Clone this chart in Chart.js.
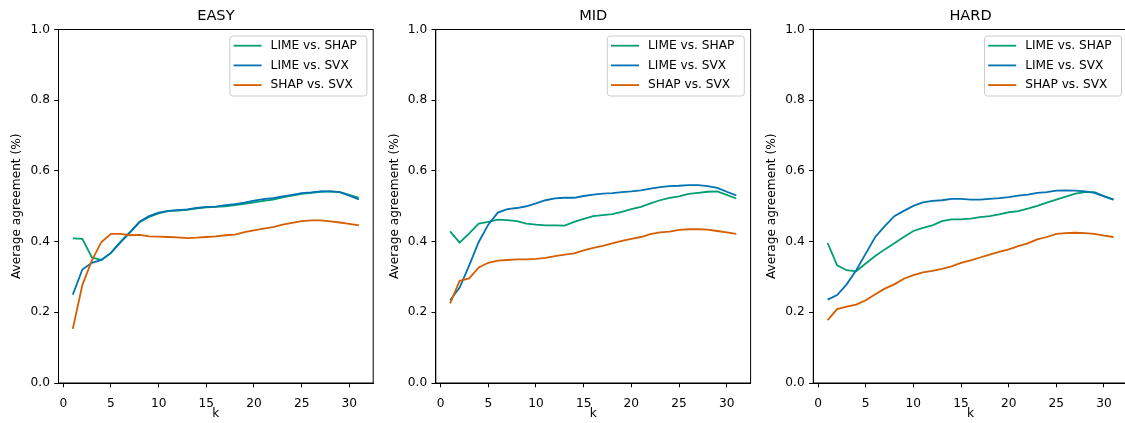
<!DOCTYPE html>
<html>
<head>
<meta charset="utf-8">
<script src="https://cdn.jsdelivr.net/npm/chart.js@4.4.1/dist/chart.umd.min.js"></script>
<style>
  html, body { margin: 0; padding: 0; background: #fff; overflow: hidden; }
  body { width: 1125px; height: 423px; position: relative; }
  canvas { position: absolute; top: 0; }
</style>
</head>
<body>
<canvas id="c1" width="380" height="423" style="left:0px"></canvas>
<canvas id="c2" width="380" height="423" style="left:380px"></canvas>
<canvas id="c3" width="375" height="423" style="left:760px"></canvas>
<script>
const kValues = [1, 2, 3, 4, 5, 6, 7, 8, 9, 10, 11, 12, 13, 14, 15, 16, 17, 18, 19, 20, 21, 22, 23, 24, 25, 26, 27, 28, 29, 30, 31];
const xTicks = [0, 5, 10, 15, 20, 25, 30];
const yTicks = [0, 0.2, 0.4, 0.6, 0.8, 1.0];
const seriesNames = ["LIME vs. SHAP", "LIME vs. SVX", "SHAP vs. SVX"];
const panelTitles = ["EASY", "MID", "HARD"];

// EASY
const limeShapEasy = [0.409, 0.408, 0.355, 0.348, 0.368, 0.398, 0.426, 0.455, 0.470, 0.480, 0.486, 0.488, 0.490, 0.494, 0.497, 0.498, 0.500, 0.503, 0.507, 0.511, 0.515, 0.519, 0.525, 0.530, 0.535, 0.538, 0.541, 0.542, 0.540, 0.532, 0.524];
const limeSvxEasy = [0.250, 0.321, 0.340, 0.348, 0.368, 0.399, 0.427, 0.456, 0.472, 0.482, 0.487, 0.489, 0.491, 0.495, 0.498, 0.499, 0.503, 0.506, 0.510, 0.516, 0.520, 0.523, 0.528, 0.532, 0.537, 0.539, 0.542, 0.542, 0.540, 0.530, 0.519];
const shapSvxEasy = [0.153, 0.277, 0.347, 0.399, 0.422, 0.422, 0.418, 0.419, 0.415, 0.414, 0.413, 0.412, 0.410, 0.411, 0.413, 0.415, 0.418, 0.420, 0.427, 0.432, 0.437, 0.441, 0.448, 0.453, 0.458, 0.460, 0.460, 0.457, 0.454, 0.450, 0.446];

// MID
const limeShapMid = [0.429, 0.397, 0.423, 0.451, 0.456, 0.462, 0.461, 0.458, 0.451, 0.448, 0.446, 0.446, 0.445, 0.456, 0.464, 0.472, 0.475, 0.478, 0.484, 0.492, 0.498, 0.508, 0.517, 0.524, 0.528, 0.535, 0.538, 0.541, 0.542, 0.532, 0.522];
const limeSvxMid = [0.234, 0.270, 0.333, 0.399, 0.448, 0.482, 0.492, 0.495, 0.500, 0.508, 0.517, 0.522, 0.524, 0.524, 0.529, 0.533, 0.536, 0.537, 0.540, 0.542, 0.545, 0.550, 0.554, 0.557, 0.558, 0.560, 0.560, 0.557, 0.552, 0.541, 0.531];
const shapSvxMid = [0.225, 0.289, 0.296, 0.327, 0.340, 0.346, 0.348, 0.350, 0.350, 0.351, 0.354, 0.359, 0.363, 0.367, 0.375, 0.382, 0.388, 0.395, 0.402, 0.408, 0.413, 0.421, 0.426, 0.428, 0.433, 0.435, 0.435, 0.434, 0.430, 0.426, 0.422];

// HARD
const limeShapHard = [0.396, 0.333, 0.319, 0.316, 0.338, 0.359, 0.378, 0.395, 0.413, 0.430, 0.439, 0.446, 0.458, 0.463, 0.463, 0.465, 0.469, 0.472, 0.477, 0.483, 0.486, 0.493, 0.501, 0.510, 0.519, 0.527, 0.536, 0.540, 0.540, 0.529, 0.519];
const limeSvxHard = [0.236, 0.249, 0.279, 0.319, 0.366, 0.413, 0.444, 0.472, 0.487, 0.501, 0.511, 0.515, 0.517, 0.521, 0.521, 0.519, 0.519, 0.521, 0.523, 0.526, 0.530, 0.533, 0.538, 0.540, 0.544, 0.545, 0.544, 0.542, 0.538, 0.528, 0.519];
const shapSvxHard = [0.178, 0.209, 0.216, 0.222, 0.234, 0.251, 0.267, 0.279, 0.295, 0.305, 0.313, 0.317, 0.323, 0.330, 0.340, 0.347, 0.355, 0.363, 0.371, 0.378, 0.387, 0.395, 0.406, 0.413, 0.422, 0.424, 0.425, 0.424, 0.422, 0.417, 0.413];

const colors = ["#029e73", "#0173b2", "#d55e00"];
const FONT = "'DejaVu Sans', sans-serif";

Chart.defaults.font.family = FONT;
Chart.defaults.font.size = 12.2;
Chart.defaults.color = "#000";

// box outline, panel title and legend, drawn matplotlib-style
const framePlugin = {
  id: "frame",
  afterDatasetsDraw(chart, args, opts) {
    const { ctx, chartArea: a } = chart;
    ctx.save();
    ctx.strokeStyle = "#000";
    ctx.lineWidth = 1;
    ctx.strokeRect(a.left, a.top, a.right - a.left, a.bottom - a.top);

    ctx.font = "14.6px " + FONT;
    ctx.fillStyle = "#000";
    ctx.textAlign = "center";
    ctx.textBaseline = "middle";
    ctx.fillText(opts.title, (a.left + a.right) / 2, 16.5);

    // legend
    const w = 137, h = 60;
    const bx = a.right - 6.3 - w, by = a.top + 6.5;
    ctx.beginPath();
    ctx.roundRect(bx, by, w, h, 3);
    ctx.fillStyle = "rgba(255,255,255,0.8)";
    ctx.fill();
    ctx.strokeStyle = "#cccccc";
    ctx.lineWidth = 1;
    ctx.stroke();
    ctx.font = "12.2px " + FONT;
    ctx.textAlign = "left";
    chart.data.datasets.forEach((ds, i) => {
      const ry = by + 9.7 + i * 19.7;
      ctx.beginPath();
      ctx.moveTo(bx + 3.7, ry);
      ctx.lineTo(bx + 31.7, ry);
      ctx.strokeStyle = ds.borderColor;
      ctx.lineWidth = 1.8;
      ctx.stroke();
      ctx.fillStyle = "#000";
      ctx.fillText(ds.label, bx + 40.7, ry);
    });
    ctx.restore();
  }
};

const panels = [
  { id: "c1", canvasLeft: 0, canvasWidth: 380, left: 58.5, right: 373.2, series: [limeShapEasy, limeSvxEasy, shapSvxEasy] },
  { id: "c2", canvasLeft: 380, canvasWidth: 380, left: 435.8, right: 750.6, series: [limeShapMid, limeSvxMid, shapSvxMid] },
  { id: "c3", canvasLeft: 760, canvasWidth: 375, left: 813.3, right: 1127.8, series: [limeShapHard, limeSvxHard, shapSvxHard] }
];

panels.forEach((p, pi) => {
  const yWidth = p.left - p.canvasLeft;
  const rightPad = p.canvasLeft + p.canvasWidth - p.right;
  const ylabelPad = yWidth - 41.3 - 7.3;

  new Chart(document.getElementById(p.id), {
    type: "line",
    data: {
      datasets: p.series.map((vals, i) => ({
        label: seriesNames[i],
        data: kValues.map((k, j) => ({ x: k, y: vals[j] })),
        borderColor: colors[i],
        backgroundColor: colors[i],
        borderWidth: 1.8,
        pointRadius: 0,
        tension: 0,
        fill: false,
        order: 3 - i
      }))
    },
    options: {
      responsive: false,
      animation: false,
      events: [],
      layout: { padding: { top: 29.5, right: rightPad, bottom: 0, left: 0 } },
      plugins: {
        legend: { display: false },
        tooltip: { enabled: false },
        frame: { title: panelTitles[pi] }
      },
      scales: {
        x: {
          type: "linear",
          min: -0.5,
          max: 32.5,
          afterBuildTicks: s => { s.ticks = xTicks.map(v => ({ value: v })); },
          afterFit: s => { s.height = 40; },
          ticks: { padding: 9, maxRotation: 0, color: "#000", font: { size: 12.2 } },
          grid: { drawOnChartArea: false, drawTicks: true, tickLength: 4.3, color: "#000", tickColor: "#000", tickWidth: 1 },
          border: { display: true, color: "#000", width: 1 },
          title: { display: true, text: "k", color: "#000", font: { size: 12.2 }, padding: { top: 0, bottom: 1.5 } }
        },
        y: {
          min: 0,
          max: 1,
          afterBuildTicks: s => { s.ticks = yTicks.map(v => ({ value: v })); },
          afterFit: s => { s.width = yWidth; },
          ticks: { padding: 4.3, color: "#000", font: { size: 12.2 }, callback: v => v.toFixed(1) },
          grid: { drawOnChartArea: false, drawTicks: true, tickLength: 4.3, color: "#000", tickColor: "#000", tickWidth: 1 },
          border: { display: true, color: "#000", width: 1 },
          title: { display: true, text: "Average agreement (%)", color: "#000", font: { size: 12.2 }, padding: { top: ylabelPad, bottom: 0 } }
        }
      }
    },
    plugins: [framePlugin]
  });
});
</script>
</body>
</html>
